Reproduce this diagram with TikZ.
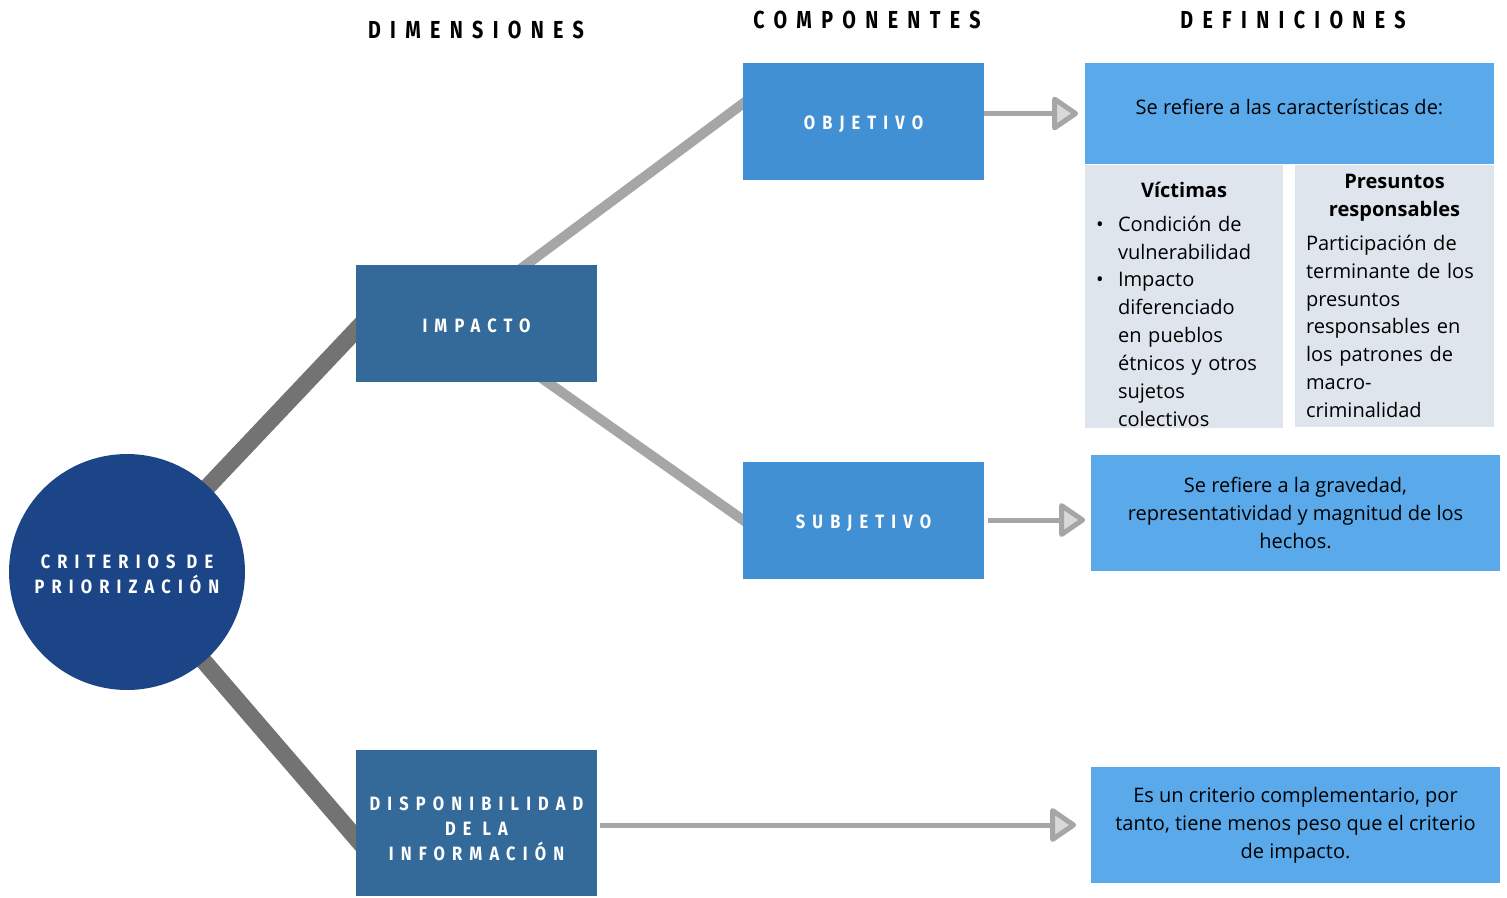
\documentclass[tikz,border=0pt]{standalone}
\usepackage{fontspec}
\setmainfont{Open Sans}
\newfontfamily\capsfont[LetterSpace=37,FakeStretch=0.85]{Fira Sans}
\newfontfamily\headfont[LetterSpace=38,FakeStretch=0.8]{Fira Sans}
\usepackage{tikz}
\usetikzlibrary{arrows.meta, positioning, backgrounds}
\usepackage{xcolor}

\definecolor{circblue}{HTML}{1B4587}
\definecolor{dimblue}{HTML}{336A9A}
\definecolor{compblue}{HTML}{4190D4}
\definecolor{defblue}{HTML}{5AAAEB}
\definecolor{palebox}{HTML}{DEE5EC}
\definecolor{darkline}{HTML}{737373}
\definecolor{lightline}{HTML}{A6A6A6}
\definecolor{tipgray}{HTML}{D9D9D9}

\newcommand{\vbul}{\makebox[0.44cm][l]{\textbullet}}
\newcommand{\vind}{\hspace*{0.44cm}}

\begin{document}
\begin{tikzpicture}[
		x=0.02cm, y=-0.02cm,
		head/.style={font=\headfont\bfseries\fontsize{14}{16}\selectfont},
		dimbox/.style={fill=dimblue, text=white, align=center, inner sep=0pt, outer sep=0pt, minimum width=4.82cm, minimum height=2.34cm, font=\capsfont\bfseries\fontsize{11}{14.2}\selectfont},
		compbox/.style={dimbox, fill=compblue},
		defbox/.style={fill=defblue, align=center, inner sep=0pt, outer sep=0pt, minimum width=8.18cm, minimum height=2.32cm, font=\fontsize{11.4}{15.9}\selectfont},
		subbox/.style={fill=palebox, align=left, inner xsep=0.22cm, inner ysep=0pt, outer sep=0pt, minimum height=5.26cm, font=\fontsize{11.4}{15.9}\selectfont},
		thickbar/.style={draw=darkline, line width=0.34cm},
		thinbar/.style={draw=lightline, line width=0.2cm},
		arrow/.style={draw=lightline, line width=0.1cm, -{Triangle[length=0.56cm, width=0.74cm, fill=tipgray, round]}}
		]
		\useasboundingbox (0,0) rectangle (1507,897);
		
		% Headers
		\node[head] (dimhead) at (476,30) {DIMENSIONES};
		\node[head] (comphead) at (867,20) {COMPONENTES};
		\node[head] (defhead) at (1293,20) {DEFINICIONES};
		
		% Nodes
		\node[circle, fill=circblue, text=white, align=center, minimum size=4.72cm, inner sep=0pt, font=\capsfont\bfseries\fontsize{11}{14.2}\selectfont] (crit) at (127,572) {\rule{0pt}{0.36cm}CRITERIOS DE\\PRIORIZACIÓN};
		\node[dimbox] (impacto) at (476.5,323) {\rule{0pt}{0.4cm}IMPACTO};
		\node[dimbox, minimum height=2.92cm] (disp) at (476.5,823) {\rule{0pt}{0.52cm}DISPONIBILIDAD\\DE LA\\INFORMACIÓN};
		\node[compbox] (objetivo) at (863.5,121.5) {\rule{0pt}{0.4cm}OBJETIVO};
		\node[compbox] (subjetivo) at (863.5,520) {\rule{0pt}{0.4cm}SUBJETIVO};
		
		\node[defbox, minimum height=2.02cm] (def1) at (1289.5,113.5) {Se refiere a las características de:\rule[-0.25cm]{0pt}{0.25cm}};
		\node[subbox, text width=3.52cm] (victimas) at (1184,296.5) {{\centering\bfseries\rule{0pt}{0.62cm}Víctimas\par}\vspace{3.4pt}
			\vbul Condición de\\
			\vind vulnerabilidad\\
			\vbul Impacto\\
			\vind diferenciado\\
			\vind en pueblos\\
			\vind étnicos y otros\\
			\vind sujetos\\
			\vind colectivos};
		\node[subbox, text width=3.54cm] (presuntos) at (1394.5,296) {{\centering\bfseries Presuntos\\responsables\par}\vspace{3.4pt}
			Participación de\\
			terminante de los\\
			presuntos\\
			responsables en\\
			los patrones de\\
			macro-\\
			criminalidad};
		\node[defbox] (def2) at (1295.5,513) {Se refiere a la gravedad,\\representatividad y magnitud de los\\hechos.};
		\node[defbox] (def3) at (1295.5,825) {Es un criterio complementario, por\\tanto, tiene menos peso que el criterio\\de impacto.};
		
		% Branches
		\begin{scope}[on background layer]
			\draw[thickbar, shorten >=-0.3cm] (crit.center) -- ([yshift=-0.14cm]impacto.west);
			\draw[thickbar, shorten >=-0.3cm] (crit.center) -- ([yshift=-0.3cm]disp.west);
			\draw[thinbar, shorten <=-0.3cm, shorten >=-0.3cm] ([xshift=1.0cm]impacto.north) -- ([yshift=0.36cm]objetivo.west);
			\draw[thinbar, shorten <=-0.3cm, shorten >=-0.3cm] ([xshift=1.4cm]impacto.south) -- (subjetivo.west);
		\end{scope}
		
		% Arrows
		\draw[arrow] (objetivo.east |- def1.west) -- ([xshift=-0.14cm]def1.west);
		\draw[arrow, shorten <=0.08cm, shorten >=0.12cm] (subjetivo.east) -- (subjetivo.east -| def2.west);
		\draw[arrow, shorten <=0.06cm, shorten >=0.3cm] (disp.east |- def3.west) -- (def3.west);
	\end{tikzpicture}
\end{document}
